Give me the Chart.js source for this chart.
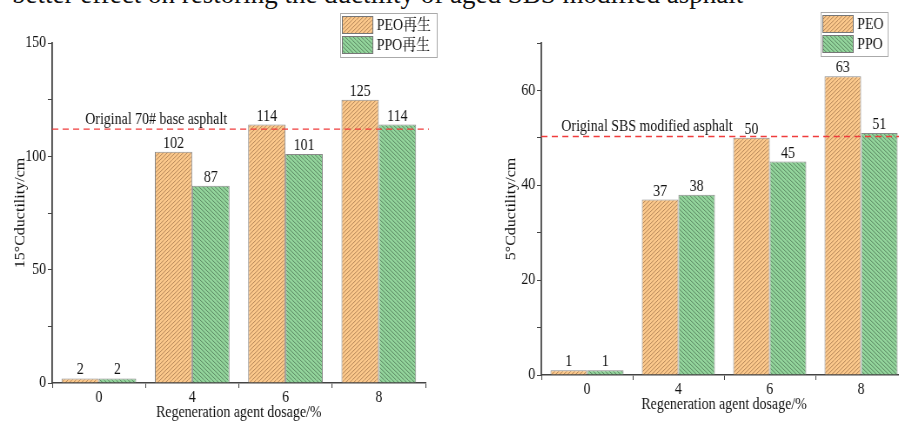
<!DOCTYPE html>
<html>
<head>
<meta charset="utf-8">
<title>Ductility of regenerated asphalt</title>
<script src="https://cdn.jsdelivr.net/npm/chart.js"></script>
<style>
html, body { margin: 0; padding: 0; background: #fff; width: 899px; height: 421px; overflow: hidden; position: relative; }
#caption {
  position: absolute; left: 12px; top: -21px; line-height: 27px;
  font: 27px "Liberation Serif", serif; color: #111; white-space: nowrap;
}
/* the source figure has narrow, tall lettering: draw wide, then squeeze */
canvas { position: absolute; top: 0; transform-origin: 0 0; transform: scaleX(0.87); }
#left { left: 0; }
#right { left: 450px; }
</style>
</head>
<body>
<div id="caption">better effect on restoring the ductility of aged SBS modified asphalt</div>
<canvas id="left" width="512" height="421"></canvas>
<canvas id="right" width="540" height="421"></canvas>

<script>
// values
const dosages = ["0", "4", "6", "8"];

const peoRegen15 = [2, 102, 114, 125];
const ppoRegen15 = [2, 87, 101, 114];
const base70Ref = 112;

const peo5 = [1, 37, 50, 63];
const ppo5 = [1, 38, 45, 51];
const sbsRef = 50.3;

const FONT = '"Liberation Serif", "Noto Serif CJK SC", "Noto Sans CJK SC", serif';

// 23x20 tile so the stripes end up near 45 degrees after the css squeeze
function hatch(bg, ink, forward) {
  const w = 23, h = 20;
  const c = document.createElement("canvas");
  c.width = w;
  c.height = h;
  const g = c.getContext("2d");
  g.fillStyle = bg;
  g.fillRect(0, 0, w, h);
  g.strokeStyle = ink;
  g.lineWidth = 1;
  for (let k = -w; k <= 2 * w; k += w / 5) {
    g.beginPath();
    if (forward) { g.moveTo(k, h); g.lineTo(k + w, 0); }
    else { g.moveTo(k, 0); g.lineTo(k + w, h); }
    g.stroke();
  }
  return g.createPattern(c, "repeat");
}

const orange = hatch("#fcc98c", "#b5875a", true);
const green = hatch("#93d59c", "#5c8863", false);

// numbers over bars
const barLabels = {
  id: "barLabels",
  afterDatasetsDraw(chart) {
    const ctx = chart.ctx;
    ctx.save();
    ctx.font = "16px " + FONT;
    ctx.fillStyle = "#111";
    ctx.textAlign = "center";
    ctx.textBaseline = "alphabetic";
    chart.data.datasets.forEach((ds, i) => {
      chart.getDatasetMeta(i).data.forEach((bar, j) => {
        ctx.fillText(String(ds.data[j]), bar.x, bar.y - 4);
      });
    });
    ctx.restore();
  }
};

// red dashed reference line with its caption
const refLine = {
  id: "refLine",
  afterDatasetsDraw(chart, args, opts) {
    const { ctx, chartArea } = chart;
    const y = chart.scales.y.getPixelForValue(opts.value);
    ctx.save();
    ctx.strokeStyle = "#f03c3c";
    ctx.lineWidth = 1.4;
    ctx.setLineDash([7, 5]);
    ctx.beginPath();
    ctx.moveTo(chartArea.left, y);
    ctx.lineTo(chartArea.right + opts.extend, y);
    ctx.stroke();
    ctx.setLineDash([]);
    ctx.font = "16px " + FONT;
    ctx.fillStyle = "#111";
    ctx.textBaseline = "alphabetic";
    ctx.fillText(opts.text, chartArea.left + opts.dx, y - 5);
    ctx.restore();
  }
};

// boxed legend in the top right corner
const boxLegend = {
  id: "boxLegend",
  afterDraw(chart, args, opts) {
    const ctx = chart.ctx;
    ctx.save();
    ctx.strokeStyle = "#aaa";
    ctx.lineWidth = 1;
    ctx.strokeRect(opts.x + 0.5, opts.y + 0.5, opts.w, 44);
    ctx.font = "16px " + FONT;
    ctx.textBaseline = "middle";
    chart.data.datasets.forEach((ds, i) => {
      const top = opts.y + 3 + i * 20;
      ctx.fillStyle = ds.backgroundColor;
      ctx.fillRect(opts.x + 2, top, 36, 18);
      ctx.strokeStyle = "#777";
      ctx.strokeRect(opts.x + 2.5, top + 0.5, 35, 17);
      ctx.fillStyle = "#111";
      ctx.fillText(ds.label, opts.x + 42, top + 10);
    });
    ctx.restore();
  }
};

function makeChart(id, cfg) {
  const font = { family: FONT, size: 16 };
  return new Chart(document.getElementById(id), {
    type: "bar",
    data: {
      labels: dosages,
      datasets: [
        { label: cfg.names[0], data: cfg.a, backgroundColor: orange, borderColor: "#8a8a8a", borderWidth: 1 },
        { label: cfg.names[1], data: cfg.b, backgroundColor: green, borderColor: "#8a8a8a", borderWidth: 1 }
      ]
    },
    plugins: [barLabels, refLine, boxLegend],
    options: {
      responsive: false,
      animation: false,
      devicePixelRatio: 1,
      layout: { padding: { top: 43, right: cfg.padRight, bottom: 0, left: 0 } },
      datasets: { bar: { categoryPercentage: 0.8, barPercentage: 1 } },
      plugins: {
        legend: { display: false },
        tooltip: { enabled: false },
        refLine: cfg.ref,
        boxLegend: cfg.legend
      },
      scales: {
        x: {
          afterFit: (s) => { s.height = cfg.xHeight; },
          grid: { drawOnChartArea: false, drawTicks: true, tickLength: 5, color: "#444", offset: true },
          border: { color: "#444", width: 1.6 },
          ticks: { font: font, color: "#111", padding: 0 },
          title: {
            display: true, text: "Regeneration agent dosage/%",
            font: { family: FONT, size: 16, lineHeight: 1 }, color: "#111",
            padding: { top: 0, bottom: cfg.xTitlePad }
          }
        },
        y: {
          min: 0, max: cfg.max,
          afterFit: (s) => { s.width = cfg.yWidth; },
          grid: { drawOnChartArea: false, drawTicks: true, tickLength: 5, color: "#444" },
          border: { color: "#444", width: 1.8 },
          ticks: {
            stepSize: cfg.minorStep,
            font: font, color: "#111", padding: 2,
            callback: (v) => (v % cfg.majorStep === 0 ? v : "")
          },
          title: {
            display: true, text: cfg.yTitle,
            font: { family: FONT, size: 16, lineHeight: 1 }, color: "#111",
            padding: { top: cfg.yTitlePad, bottom: 0 }
          }
        }
      }
    }
  });
}

// sizes below are canvas units (screen px / 0.87 horizontally)
makeChart("left", {
  names: ["PEO再生", "PPO再生"], a: peoRegen15, b: ppoRegen15,
  max: 150, majorStep: 50, minorStep: 25,
  yTitle: "15°Cductility/cm", yWidth: 60, yTitlePad: 16,
  xHeight: 38, xTitlePad: 0, padRight: 23,
  ref: { value: base70Ref, text: "Original 70# base asphalt", dx: 38, extend: 4 },
  legend: { x: 391, y: 13, w: 111 }
});

makeChart("right", {
  names: ["PEO", "PPO"], a: peo5, b: ppo5,
  max: 70, majorStep: 20, minorStep: 10,
  yTitle: "5°Cductility/cm", yWidth: 105, yTitlePad: 63,
  xHeight: 46, xTitlePad: 8, padRight: 15,
  ref: { value: sbsRef, text: "Original SBS modified asphalt", dx: 23, extend: 0 },
  legend: { x: 426, y: 12, w: 77 }
});
</script>
</body>
</html>
